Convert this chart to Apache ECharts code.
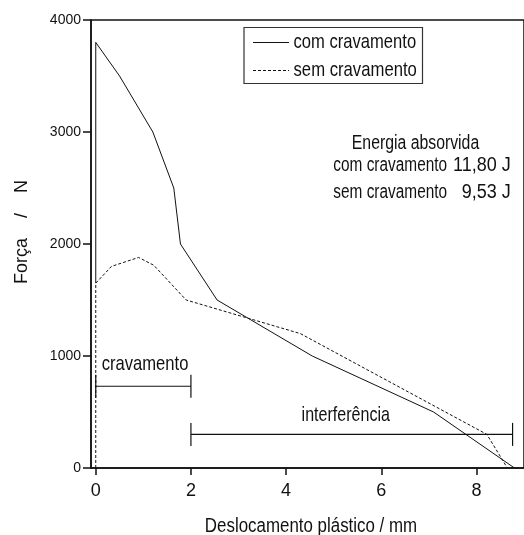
<!DOCTYPE html>
<html>
<head>
<meta charset="utf-8">
<script src="https://cdn.jsdelivr.net/npm/echarts@6/dist/echarts.min.js"></script>
<style>
  html, body { margin: 0; padding: 0; background: #fff; }
  #chart { width: 524px; height: 535px; }
</style>
</head>
<body>
<div id="chart"></div>
<script>
// Force vs plastic displacement, with and without crimping
const comX = [0, 0, 0.5, 1.2, 1.64, 1.78, 2.55, 4.55, 7.1, 8.8];
const comY = [1650, 3800, 3500, 3000, 2500, 2000, 1500, 1000, 500, 0];
const semX = [0, 0, 0.33, 0.9, 1.22, 1.9, 4.3, 8.22, 8.65];
const semY = [0, 1650, 1800, 1880, 1810, 1500, 1200, 300, 0];

// Range brackets: start, end, force level
const bracketStart = [0, 2];
const bracketEnd = [2, 8.76];
const bracketLevel = [730, 300];
const bracketNames = ['cravamento', 'interferência'];

const seriesNames = ['com cravamento', 'sem cravamento'];
const xTicks = [0, 2, 4, 6, 8];
const energyTitle = 'Energia absorvida';
const energyLabels = ['com cravamento', 'sem cravamento'];
const energyValues = ['11,80 J', '9,53 J'];

const FONT = "'Liberation Sans', Arial, sans-serif";
const ink = '#111';

const zip = (xs, ys) => xs.map((x, i) => [x, ys[i]]);

function txt(text, x, y, size, sx, align, extra) {
  return Object.assign({
    type: 'text', x: x, y: y, scaleX: sx, silent: true, z: 10,
    style: { text: text, fontSize: size, fontFamily: FONT, fill: ink,
             align: align || 'left', verticalAlign: 'middle' }
  }, extra || {});
}

const chart = echarts.init(document.getElementById('chart'), null, { renderer: 'canvas' });

chart.setOption({
  animation: false,
  backgroundColor: '#fff',
  grid: { left: 91, top: 20, width: 434, height: 448, show: true,
          borderColor: ink, borderWidth: 1.5, backgroundColor: 'transparent' },
  xAxis: {
    type: 'value', min: -0.1, max: 9,
    axisLine: { show: true, onZero: false, lineStyle: { color: ink, width: 1.5 } },
    axisTick: { show: true, length: 7, customValues: xTicks, lineStyle: { color: ink, width: 1.5 } },
    axisLabel: { customValues: xTicks, fontSize: 18, fontFamily: FONT, color: ink, margin: 14 },
    splitLine: { show: false }
  },
  yAxis: {
    type: 'value', min: 0, max: 4000, interval: 1000,
    axisLine: { show: true, onZero: false, lineStyle: { color: ink, width: 1.5 } },
    axisTick: { show: true, length: 8, lineStyle: { color: ink, width: 1.5 } },
    axisLabel: { fontSize: 14, fontFamily: FONT, color: ink, margin: 10,
                 formatter: v => String(v) },
    splitLine: { show: false }
  },
  series: [
    {
      name: seriesNames[0], type: 'line', data: zip(comX, comY),
      symbol: 'none', lineStyle: { color: ink, width: 1, type: 'solid' }, z: 3
    },
    {
      name: seriesNames[1], type: 'line', data: zip(semX, semY),
      symbol: 'none', lineStyle: { color: ink, width: 1, type: [3, 2] }, z: 3
    },
    {
      name: 'brackets', type: 'custom',
      data: bracketStart.map((s, i) => [s, bracketEnd[i], bracketLevel[i]]),
      encode: { x: [0, 1], y: 2 },
      renderItem: function (params, api) {
        const a = api.coord([api.value(0), api.value(2)]);
        const b = api.coord([api.value(1), api.value(2)]);
        const h = 11.5;
        const st = { stroke: ink, lineWidth: 1.2 };
        return {
          type: 'group',
          children: [
            { type: 'line', shape: { x1: a[0], y1: a[1], x2: b[0], y2: b[1] }, style: st },
            { type: 'line', shape: { x1: a[0], y1: a[1] - h, x2: a[0], y2: a[1] + h }, style: st },
            { type: 'line', shape: { x1: b[0], y1: b[1] - h, x2: b[0], y2: b[1] + h }, style: st }
          ]
        };
      },
      z: 2
    }
  ],
  graphic: [
    // legend box
    { type: 'rect', shape: { x: 244, y: 27.5, width: 178.5, height: 56 },
      style: { fill: '#fff', stroke: '#333', lineWidth: 1.2 }, z: 9 },
    { type: 'line', shape: { x1: 253, y1: 42.5, x2: 289, y2: 42.5 },
      style: { stroke: ink, lineWidth: 1 }, z: 10 },
    { type: 'line', shape: { x1: 253, y1: 70.5, x2: 289, y2: 70.5 },
      style: { stroke: ink, lineWidth: 1, lineDash: [3, 2] }, z: 10 },
    txt(seriesNames[0], 293.5, 42.3, 21, 0.79),
    txt(seriesNames[1], 293.5, 70.3, 21, 0.795),

    // absorbed energy block
    txt(energyTitle, 415.5, 143, 20, 0.79, 'center'),
    txt(energyLabels[0], 333.3, 165.7, 20, 0.77),
    txt(energyValues[0], 510.7, 165.7, 20, 0.9, 'right'),
    txt(energyLabels[1], 333.3, 192, 20, 0.77),
    txt(energyValues[1], 510.7, 192, 20, 0.9, 'right'),

    // bracket labels
    txt(bracketNames[0], 101.7, 364, 21, 0.79),
    txt(bracketNames[1], 345.8, 415.5, 21, 0.765, 'center'),

    // axis titles
    txt('Deslocamento plástico / mm', 311, 526.3, 20, 0.845, 'center'),
    txt('Força    /    N', 22, 232, 18, 1, 'center', { rotation: Math.PI / 2 })
  ]
});
</script>
</body>
</html>
